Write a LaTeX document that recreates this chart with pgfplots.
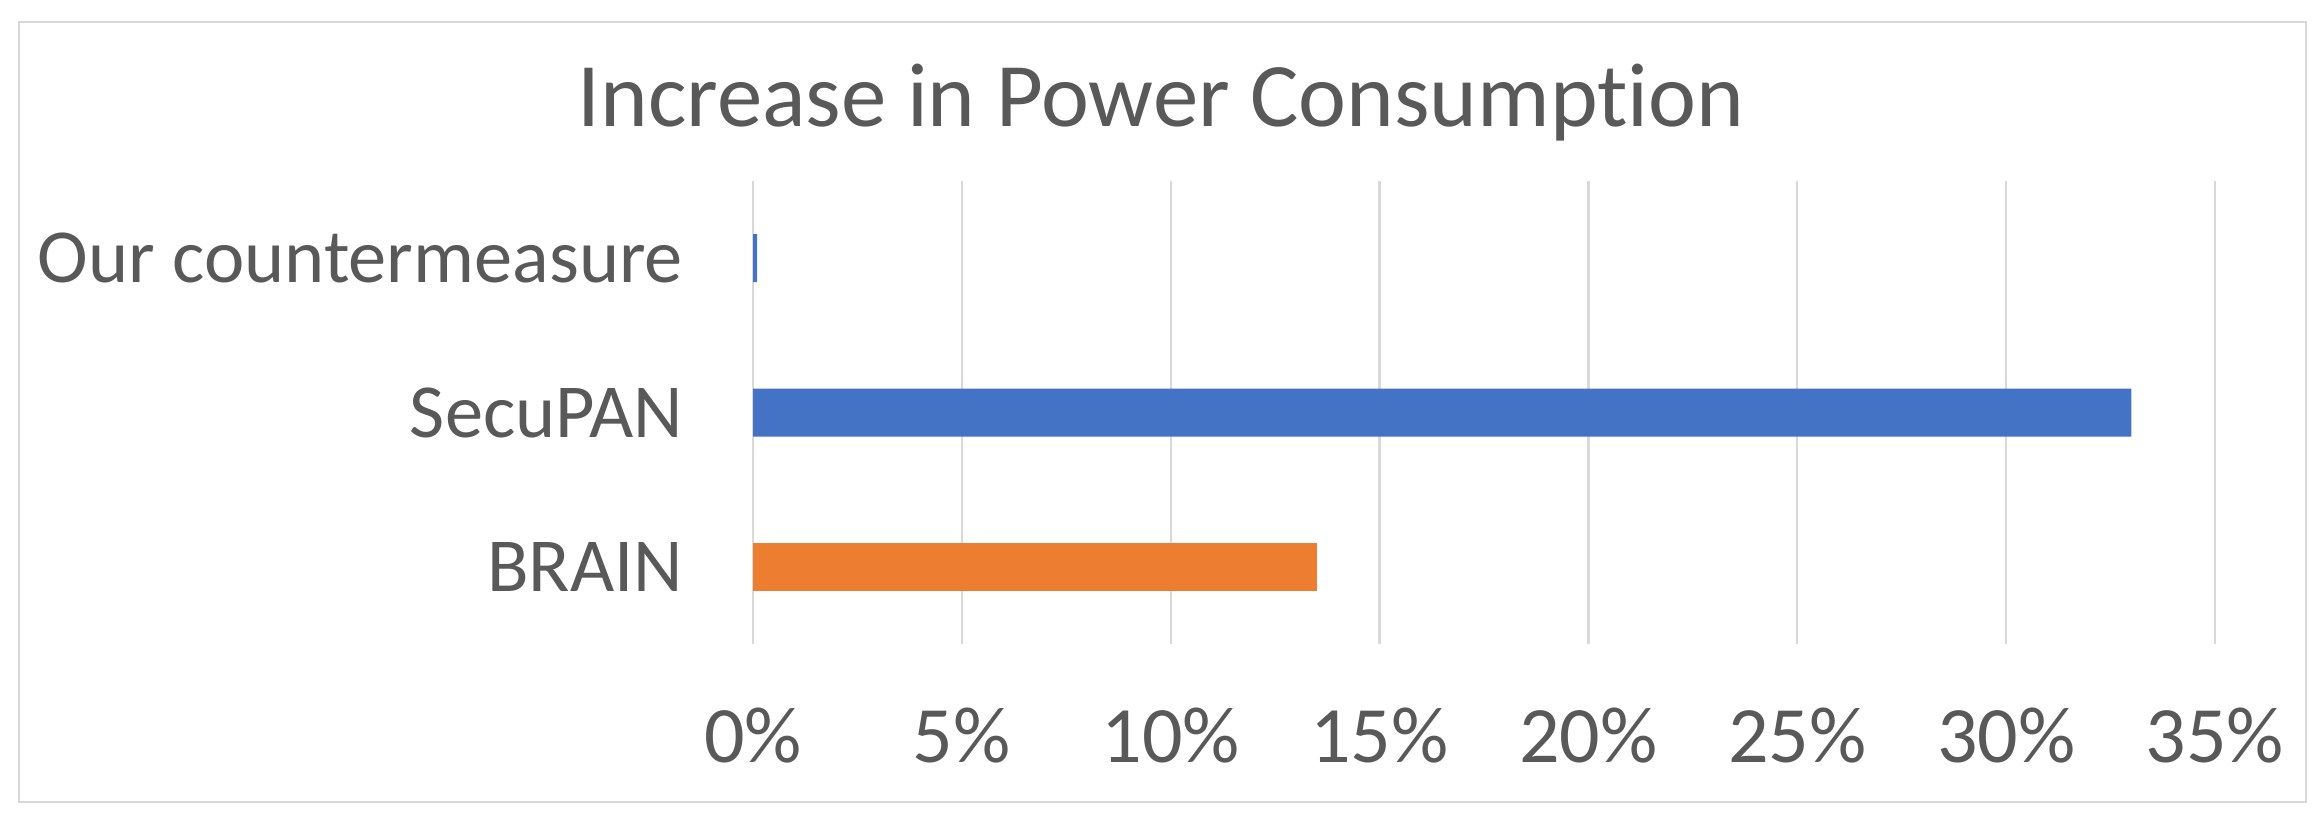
\documentclass[border=0pt]{standalone}
\usepackage{pgfplots}
\pgfplotsset{compat=1.18}
\usepackage{fontspec}
\setmainfont{Carlito}[Ligatures=NoCommon]
\definecolor{txt}{HTML}{595959}
\definecolor{gridc}{HTML}{D9D9D9}
\definecolor{cblue}{HTML}{4472C4}
\definecolor{corange}{HTML}{ED7D31}
\begin{document}
\begin{tikzpicture}[x=1pt,y=1pt]
\path[use as bounding box] (0,0) rectangle (580.5,206.25);
\draw[gridc,line width=0.6pt] (4.75,5.75) rectangle (576.5,200.75);
\node[anchor=base,text=txt,font=\fontsize{22.7}{26}\selectfont] at (290.25,174.5) {Increase in Power Consumption};
\begin{axis}[
  at={(188.25pt,45.25pt)}, anchor=south west,
  scale only axis, width=365.5pt, height=115.75pt,
  xbar, bar width=12pt,
  xmin=0, xmax=35, ymin=-0.5, ymax=2.5,
  xtick={0,5,...,35},
  xticklabel={\pgfmathprintnumber{\tick}\%},
  /pgf/number format/assume math mode=true,
  ytick={0,1,2},
  yticklabels={BRAIN,SecuPAN,Our countermeasure},
  axis line style={draw=none},
  major tick length=0pt,
  xmajorgrids, grid style={gridc, line width=0.6pt},
  tick label style={text=txt},
  xticklabel style={anchor=north, yshift=-12.5pt, font=\fontsize{20}{24}\selectfont},
  yticklabel style={anchor=east, xshift=-14pt, font=\fontsize{19.1}{23}\selectfont},
]
\addplot[fill=corange, draw=none, bar shift=0pt] coordinates {(13.5,0)};
\addplot[fill=cblue, draw=none, bar shift=0pt] coordinates {(33,1) (0.1,2)};
\end{axis}
\end{tikzpicture}
\end{document}
